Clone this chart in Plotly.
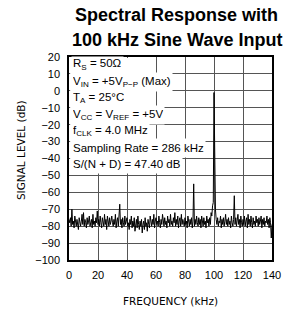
import plotly.graph_objects as go

# Frequency axis (kHz), 0.5 kHz steps
freq_khz = [i * 0.5 for i in range(281)]

# Signal level (dB), rows of 10 kHz
level_db = [
    -76, -78, -75, -80, -70, -79, -77, -81, -74, -78, -80, -76, -79, -82, -75, -78, -80, -77, -73, -79,
    -72, -80, -76, -78, -81, -75, -79, -77, -74, -80, -78, -76, -81, -73, -79, -77, -80, -75, -78, -71,
    -79, -76, -80, -74, -78, -81, -75, -77, -80, -73, -79, -76, -82, -74, -78, -80, -75, -79, -77, -74,
    -78, -80, -76, -79, -73, -81, -77, -75, -80, -74, -67, -79, -76, -81, -75, -78, -80, -74, -79, -77,
    -75, -80, -78, -82, -76, -79, -74, -81, -77, -80, -75, -83, -78, -76, -81, -74, -79, -82, -77, -80,
    -76, -84, -79, -77, -82, -75, -80, -78, -83, -76, -79, -81, -74, -78, -80, -76, -79, -73, -81, -77,
    -75, -79, -77, -80, -74, -78, -81, -76, -79, -73, -78, -80, -75, -79, -77, -81, -74, -78, -76, -80,
    -73, -79, -77, -80, -75, -78, -72, -80, -76, -79, -74, -81, -77, -75, -80, -73, -79, -76, -78, -80,
    -75, -79, -77, -81, -74, -78, -80, -76, -79, -75, -81, -77, -55, -80, -76, -79, -74, -78, -80, -75,
    -79, -76, -81, -74, -78, -80, -75, -79, -77, -81, -74, -78, -76, -80, -75, -79, -72, -74, -68, -66,
    -1, -67, -70, -76, -79, -75, -80, -77, -78, -74, -81, -76, -79, -75, -80, -77, -73, -79, -76, -80,
    -75, -79, -77, -81, -74, -78, -80, -76, -62, -79, -75, -80, -77, -73, -79, -76, -81, -74, -78, -80,
    -76, -79, -74, -80, -77, -75, -81, -73, -79, -76, -80, -74, -78, -81, -75, -79, -77, -80, -74, -78,
    -76, -80, -75, -79, -77, -74, -81, -76, -79, -75, -80, -77, -78, -74, -79, -76, -81, -75, -78, -87,
    -79,
]

title_lines = ["Spectral Response with", "100 kHz Sine Wave Input"]
cond_lines = [
    "R<sub>S</sub> = 50Ω",
    "V<sub>IN</sub> = +5V<sub>P−P</sub> (Max)",
    "T<sub>A</sub> = 25°C",
    "V<sub>CC</sub> = V<sub>REF</sub> = +5V",
    "f<sub>CLK</sub> = 4.0 MHz",
    "Sampling Rate = 286 kHz",
    "S/(N + D) = 47.40 dB",
]
cond_y = [15.3, 5.5, -4.2, -14.0, -23.7, -33.5, -43.2]
x_title = "FREQUENCY (kHz)"
y_title = "SIGNAL LEVEL (dB)"

fig = go.Figure()
fig.add_trace(go.Scatter(x=freq_khz, y=level_db, mode="lines",
                         line=dict(color="black", width=1), hoverinfo="skip"))

fig.update_layout(
    width=292, height=314,
    margin=dict(l=69, r=20, t=57, b=54),
    paper_bgcolor="white", plot_bgcolor="white",
    showlegend=False,
    font=dict(family="Liberation Sans, Arial, sans-serif", color="black"),
)
tick_font = dict(size=11, family="Liberation Sans, Arial, sans-serif", color="black")
fig.update_xaxes(range=[0, 140], dtick=20, tick0=0, showgrid=True, gridcolor="#555",
                 gridwidth=1, showline=True, linecolor="black", linewidth=1.5, mirror=True,
                 ticks="", zeroline=False, ticklabelstandoff=4, tickfont=tick_font)
fig.update_yaxes(range=[-100, 20], dtick=10, tick0=0, showgrid=True, gridcolor="#555",
                 gridwidth=1, showline=True, linecolor="black", linewidth=1.5, mirror=True,
                 ticks="", zeroline=False, ticklabelstandoff=5, tickfont=tick_font)

# white background patch behind the conditions block
fig.add_shape(type="rect", xref="x", yref="y", x0=0.8, x1=42, y0=-48, y1=19.4,
              fillcolor="white", line=dict(width=0), layer="above")

for i, (t, yv) in enumerate(zip(cond_lines, cond_y)):
    fig.add_annotation(x=0, y=yv, xref="x", yref="y", text=t, showarrow=False,
                       xanchor="left", yanchor="middle", xshift=2,
                       bgcolor="white", borderpad=1, height=13 if i == 0 else 16,
                       font=dict(size=11.5, family="Liberation Sans, Arial, sans-serif", color="black"))

for t, yp in zip(title_lines, [1.205, 1.085]):
    fig.add_annotation(x=0.53, y=yp, xref="paper", yref="paper", text="<b>" + t + "</b>",
                       showarrow=False, xanchor="center", yanchor="middle",
                       font=dict(size=18, family="Liberation Sans, Arial, sans-serif", color="black"))

fig.add_annotation(x=0.5, y=-0.2, xref="paper", yref="paper", text=x_title, showarrow=False,
                   xanchor="center", yanchor="middle",
                   font=dict(size=10.5, family="DejaVu Sans, sans-serif", color="black"))
fig.add_annotation(x=-0.236, y=0.542, xref="paper", yref="paper", text=y_title, showarrow=False,
                   textangle=-90, xanchor="center", yanchor="middle",
                   font=dict(size=10.5, family="DejaVu Sans, sans-serif", color="black"))

fig.write_html("out.html", config={"displayModeBar": False},
               post_script="document.body.style.margin='0px';document.body.style.overflow='hidden';")
